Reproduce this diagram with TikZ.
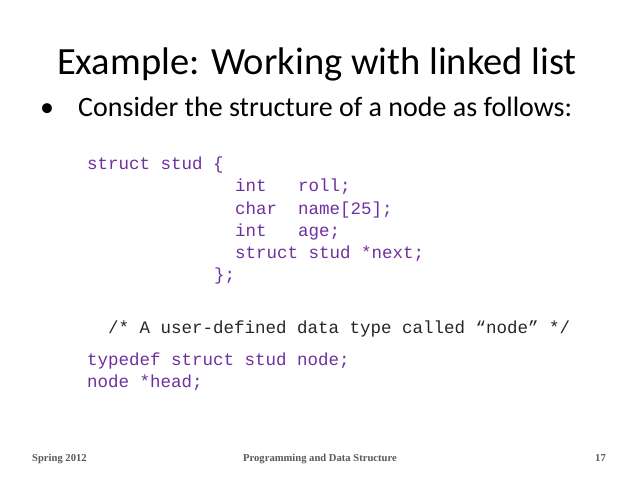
\documentclass[tikz,border=0pt]{standalone}
\usepackage{fontspec}
\setmainfont{Carlito}
\newfontfamily\codefont{Liberation Mono}
\newfontfamily\footfont{Liberation Serif}
\definecolor{codepurple}{HTML}{7030A0}
\definecolor{footgray}{HTML}{595959}
\begin{document}
\begin{tikzpicture}[x=1pt,y=-1pt,
  code/.style={anchor=base west,inner sep=0,font=\codefont\fontsize{17.5}{20}\selectfont,text=codepurple},
  foot/.style={anchor=base,inner sep=0,font=\footfont\bfseries\fontsize{10.6}{12}\selectfont,text=footgray}]
\useasboundingbox[fill=white] (0,0) rectangle (638,478);
\node[anchor=base west,inner sep=0,font=\fontsize{38.5}{44}\selectfont] (title) at (57,75) {Example: Working with linked list};
\node[anchor=base west,inner sep=0,font=\fontsize{28}{32}\selectfont] (bullet) at (40,117) {•};
\node[anchor=base west,inner sep=0,font=\fontsize{28}{32}\selectfont] (bullet) at (78,117) {Consider the structure of a node as follows:};
\node[code] (c1) at (87,170) {struct stud \{};
\node[code] (c2) at (235,192) {int~~~roll;};
\node[code] (c3) at (235,215) {char~~name[25];};
\node[code] (c4) at (235,237) {int~~~age;};
\node[code] (c5) at (235,259) {struct stud *next;};
\node[code] (c6) at (214,281) {\};};
\node[code,text=black!85] (cm) at (108,334) {/* A user-defined data type called “node” */};
\node[code] (t1) at (87,366) {typedef struct stud node;};
\node[code] (t2) at (87,388) {node *head;};
\node[foot,anchor=base west] (f1) at (32,462) {Spring 2012};
\node[foot] (f2) at (320,462) {Programming and Data Structure};
\node[foot,anchor=base east] (f3) at (606,462) {17};
\end{tikzpicture}
\end{document}
